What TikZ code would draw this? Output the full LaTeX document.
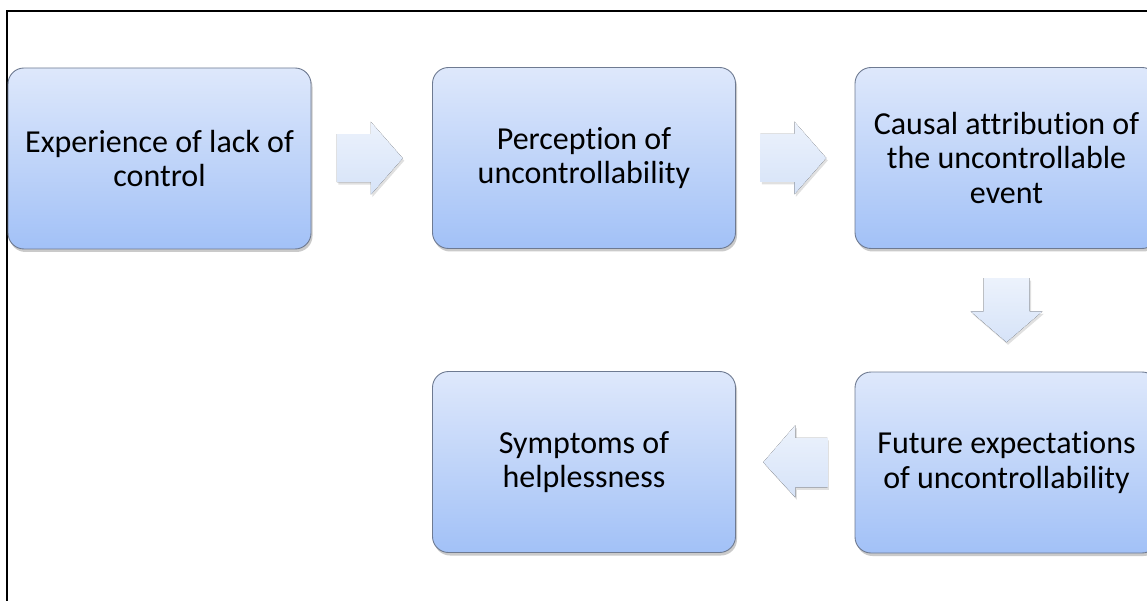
\documentclass[tikz,border=0pt]{standalone}
\usepackage{fontspec}
\setmainfont[Ligatures={NoCommon}]{Carlito}
\usetikzlibrary{calc,shadows}
\definecolor{boxtop}{RGB}{222,232,251}
\definecolor{boxbot}{RGB}{162,193,247}
\definecolor{boxline}{RGB}{110,122,145}
\definecolor{arrtop}{RGB}{236,242,252}
\definecolor{arrbot}{RGB}{214,227,248}
\tikzset{
  stepbox/.style={draw=boxline, line width=0.9pt, rounded corners=16pt,
    top color=boxtop, bottom color=boxbot,
    minimum width=303pt, minimum height=181pt, align=center,
    font=\fontsize{32}{34.5}\selectfont, text=black,
    drop shadow={shadow xshift=1.5pt, shadow yshift=-3pt, opacity=0.35, fill=black!60}},
  blockarrow/.style={top color=arrtop, bottom color=arrbot,
    drop shadow={shadow xshift=1.5pt, shadow yshift=-2.5pt, opacity=0.2, fill=black!60}},
  frameline/.style={draw=black, line width=1.6pt}
}
\begin{document}
\begin{tikzpicture}[x=1pt,y=-1pt]
\useasboundingbox (0,0) rectangle (1147,601);
\clip (0,0) rectangle (1147,601);
\draw[frameline] (7,601) -- (7,11) -- (1147,11);

\node[stepbox] (b1) at (159.5,158.5) {Experience of lack of\\control};
\node[stepbox] (b2) at (584,158) {Perception of\\uncontrollability};
\node[stepbox] (b3) at (1006.5,158) {Causal attribution of\\the uncontrollable\\event};
\node[stepbox] (b5) at (1006.5,462.5) {Future expectations\\of uncontrollability};
\node[stepbox] (b4) at (584,462) {Symptoms of\\helplessness};

\coordinate (m12) at ($(b1.east)!0.5!(b2.west)+(-2,0)$);
\coordinate (m23) at ($(b2.east)!0.5!(b3.west)+(-2,0)$);
\coordinate (m35) at ($(b3.south)!0.5!(b5.north)$);
\coordinate (m54) at ($(b4.east)!0.5!(b5.west)$);

\fill[blockarrow] (m12) ++(-33,-24) -- ++(34,0) -- ++(0,-12.5) -- ++(32,36.5)
  -- ++(-32,36.5) -- ++(0,-12.5) -- ++(-34,0) -- cycle;
\fill[blockarrow] (m23) ++(-33,-24) -- ++(34,0) -- ++(0,-12.5) -- ++(32,36.5)
  -- ++(-32,36.5) -- ++(0,-12.5) -- ++(-34,0) -- cycle;
\fill[blockarrow] (m35) ++(-23,-32) -- ++(0,33) -- ++(-13,0) -- ++(36,31)
  -- ++(36,-31) -- ++(-13,0) -- ++(0,-33) -- cycle;
\fill[blockarrow] (m54) ++(32,-24.5) -- ++(-32,0) -- ++(0,-12.5) -- ++(-32,37)
  -- ++(32,35) -- ++(0,-10) -- ++(32,0) -- cycle;
\end{tikzpicture}
\end{document}
